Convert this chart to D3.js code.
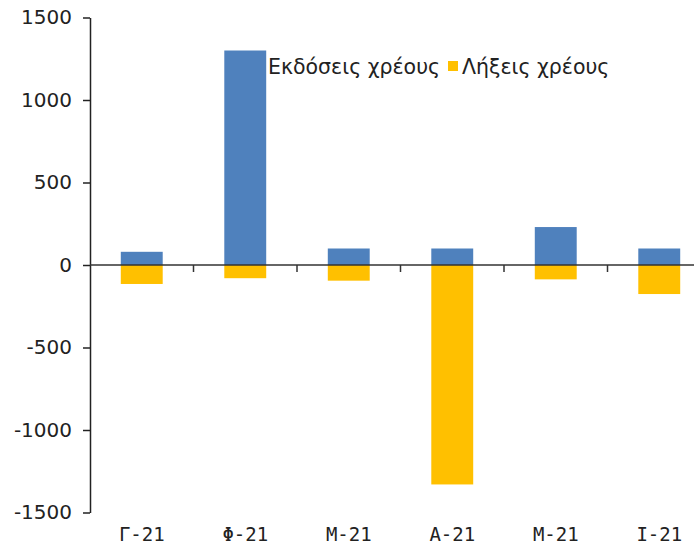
<!DOCTYPE html>
<html>
<head>
<meta charset="utf-8">
<script src="https://cdn.jsdelivr.net/npm/d3@7"></script>
<style>
body { margin: 0; background: #fff; }
</style>
</head>
<body>
<div class="chart"></div>
<script>
// data
var months = ['Γ-21', 'Φ-21', 'Μ-21', 'Α-21', 'Μ-21', 'Ι-21'];
var issues = [80, 1300, 100, 100, 230, 100];      // Εκδόσεις χρέους
var maturities = [-115, -80, -95, -1330, -87, -176]; // Λήξεις χρέους
var yTicks = [-1500, -1000, -500, 0, 500, 1000, 1500];

var W = 694, H = 547;

var svg = d3.select('.chart').append('svg')
  .attr('width', W)
  .attr('height', H);

// plot runs past the right edge, like the original
var x = d3.scaleBand()
  .domain(d3.range(months.length))
  .range([90, 711])
  .paddingInner(0.595)
  .paddingOuter(0.2975);

var y = d3.scaleLinear()
  .domain([-1500, 1500])
  .range([512.5, 17.5]);

// y axis
var yAxis = svg.append('g')
  .attr('transform', 'translate(90,0)')
  .call(d3.axisLeft(y).tickValues(yTicks).tickSize(7).tickSizeOuter(0).tickPadding(11)
    .tickFormat(function(d) { return String(d); }));
yAxis.selectAll('text')
  .style('font-family', 'DejaVu Sans, Verdana, sans-serif')
  .style('font-size', '20px')
  .style('fill', '#222');
yAxis.selectAll('line, path').style('stroke', '#222').style('stroke-width', 1.5);

// bars
svg.append('g').selectAll('rect.iss')
  .data(issues)
  .join('rect')
  .attr('class', 'iss')
  .attr('x', function(d, i) { return x(i); })
  .attr('width', x.bandwidth())
  .attr('y', function(d) { return y(d); })
  .attr('height', function(d) { return y(0) - y(d); })
  .style('fill', '#4F81BD');

svg.append('g').selectAll('rect.mat')
  .data(maturities)
  .join('rect')
  .attr('class', 'mat')
  .attr('x', function(d, i) { return x(i); })
  .attr('width', x.bandwidth())
  .attr('y', y(0))
  .attr('height', function(d) { return y(d) - y(0); })
  .style('fill', '#FFC000');

// zero line with ticks between categories
svg.append('line')
  .attr('x1', 90).attr('x2', W)
  .attr('y1', y(0)).attr('y2', y(0))
  .style('stroke', '#333').style('stroke-width', 1.5);

svg.append('g').selectAll('line')
  .data(d3.range(1, months.length))
  .join('line')
  .attr('x1', function(i) { return x(i) - x.step() * x.paddingInner() / 2; })
  .attr('x2', function(i) { return x(i) - x.step() * x.paddingInner() / 2; })
  .attr('y1', y(0)).attr('y2', y(0) + 7)
  .style('stroke', '#333').style('stroke-width', 1.5);

// category labels at the bottom
var xAxis = svg.append('g')
  .attr('transform', 'translate(0,' + 522 + ')')
  .call(d3.axisBottom(x).tickSize(0).tickPadding(6).tickFormat(function(i) { return months[i]; }));
xAxis.select('.domain').remove();
xAxis.selectAll('text')
  .style('font-family', 'DejaVu Sans Mono, Liberation Mono, monospace')
  .style('font-size', '19px')
  .style('fill', '#222');

// legend
var legend = svg.append('g');
var items = [
  { name: 'Εκδόσεις χρέους', color: '#4F81BD', x: 254 },
  { name: 'Λήξεις χρέους', color: '#FFC000', x: 448 }
];
items.forEach(function(it) {
  legend.append('rect')
    .attr('x', it.x).attr('y', 61)
    .attr('width', 10).attr('height', 10)
    .style('fill', it.color);
  legend.append('text')
    .attr('x', it.x + 14).attr('y', 74)
    .text(it.name)
    .style('font-family', 'DejaVu Sans, Verdana, sans-serif')
    .style('font-size', '20.5px')
    .style('fill', '#222');
});
</script>
</body>
</html>
